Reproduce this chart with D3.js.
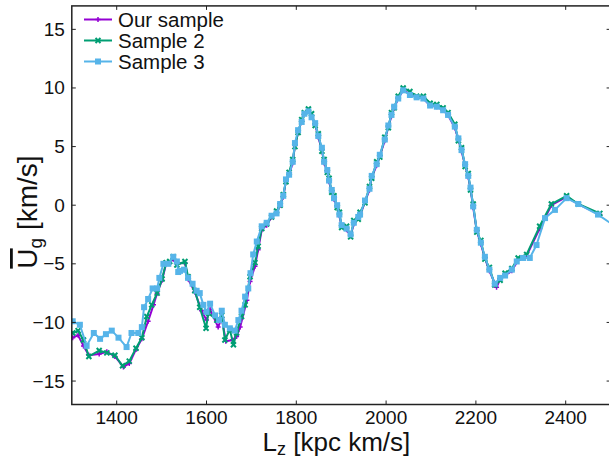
<!DOCTYPE html>
<html>
<head>
<script src="https://d3js.org/d3.v7.min.js"></script>
<style>
  body { margin: 0; background: #fff; }
  svg { font-family: 'Liberation Sans', Arial, sans-serif; }
</style>
</head>
<body>
<div id="chart"></div>
<script>
// ---- data ----
var xTicks = [1400, 1600, 1800, 2000, 2200, 2400];
var yTicks = [-15, -10, -5, 0, 5, 10, 15];
var seriesNames = ["Our sample", "Sample 2", "Sample 3"];

var ourSample = [
  [1302,-11.3],[1314,-11.1],[1326,-12.0],[1338,-12.8],[1361,-12.7],[1378,-12.5],[1396,-12.9],[1415,-13.8],
  [1428,-13.5],[1443,-12.3],[1456,-11.4],[1470,-9.9],[1482,-8.5],[1490,-7.5],[1501,-6.4],[1510,-5.0],
  [1526,-4.6],[1534,-5.0],[1552,-4.9],[1559,-6.3],[1574,-7.4],[1589,-9.0],[1600,-9.8],[1608,-8.9],
  [1626,-10.4],[1634,-9.6],[1643,-11.6],[1658,-11.5],[1667,-11.2],[1675,-10.4],[1690,-8.1],[1697,-6.5],
  [1708,-5.2],[1715,-3.8],[1723,-2.1],[1734,-1.7],[1745,-1.0],[1756,-0.6],[1764,0.0],[1771,0.7],
  [1777,2.1],[1784,2.6],[1792,3.6],[1797,5.1],[1804,6.2],[1812,7.2],[1818,7.8],[1827,8.1],
  [1834,7.6],[1842,6.9],[1849,5.8],[1857,4.7],[1862,3.6],[1869,2.9],[1873,2.0],[1879,1.2],
  [1884,0.5],[1891,-0.1],[1896,-0.9],[1901,-1.8],[1912,-2.1],[1921,-2.6],[1928,-1.6],[1938,-1.1],
  [1942,-0.9],[1953,0.3],[1963,1.3],[1968,2.4],[1979,3.4],[1986,4.2],[1997,5.5],[2005,6.7],
  [2012,7.6],[2018,8.3],[2027,9.1],[2038,9.8],[2053,9.5],[2068,9.2],[2083,9.1],[2098,8.5],
  [2113,8.4],[2127,8.1],[2138,7.7],[2153,6.6],[2161,5.6],[2168,4.6],[2176,3.4],[2183,2.4],
  [2188,1.4],[2194,-0.2],[2202,-2.2],[2211,-3.3],[2220,-4.5],[2230,-5.6],[2246,-7.0],[2254,-6.3],
  [2265,-6.0],[2280,-5.6],[2294,-4.7],[2313,-4.3],[2342,-2.0],[2368,0.0],[2402,0.7],[2428,0.1],
  [2476,-0.8]
];

var sample2 = [
  [1302,-10.9],[1314,-10.7],[1326,-11.5],[1338,-12.9],[1361,-12.4],[1378,-12.6],[1396,-12.8],[1413,-13.7],
  [1428,-13.3],[1443,-12.2],[1456,-11.3],[1467,-9.5],[1478,-8.5],[1490,-7.5],[1501,-6.3],[1510,-4.9],
  [1518,-4.8],[1526,-4.4],[1534,-5.1],[1552,-4.8],[1559,-6.1],[1574,-7.3],[1585,-8.7],[1599,-10.5],
  [1604,-9.2],[1623,-9.8],[1634,-9.4],[1641,-11.5],[1652,-10.6],[1660,-11.9],[1667,-10.9],[1678,-9.5],
  [1686,-8.5],[1697,-6.1],[1708,-4.9],[1715,-3.5],[1723,-2.0],[1734,-1.6],[1745,-1.0],[1756,-0.5],
  [1764,0.0],[1771,0.9],[1777,2.0],[1784,2.8],[1792,3.9],[1797,5.0],[1804,6.2],[1812,7.3],
  [1818,7.9],[1827,8.2],[1834,7.8],[1842,6.8],[1849,6.1],[1857,4.6],[1862,3.9],[1869,2.8],
  [1873,2.3],[1879,1.1],[1884,0.8],[1891,-0.2],[1896,-0.6],[1901,-1.9],[1912,-1.8],[1921,-2.7],
  [1928,-1.3],[1938,-1.2],[1942,-0.6],[1953,0.2],[1963,1.6],[1968,2.3],[1979,3.7],[1986,4.1],
  [1997,5.8],[2005,6.6],[2012,7.9],[2018,8.3],[2027,9.3],[2038,10.0],[2053,9.7],[2068,9.3],
  [2083,9.3],[2098,8.7],[2113,8.6],[2127,8.3],[2138,7.9],[2153,6.9],[2161,5.5],[2168,4.9],
  [2176,3.3],[2183,2.7],[2188,1.3],[2194,0.1],[2202,-2.3],[2211,-3.0],[2220,-4.6],[2230,-5.3],
  [2242,-6.8],[2254,-6.4],[2265,-5.8],[2280,-5.4],[2294,-4.5],[2313,-4.2],[2342,-1.8],[2368,0.1],
  [2402,0.8],[2428,0.1],[2476,-0.7]
];

var sample3 = [
  [1302,-9.9],[1318,-10.2],[1333,-12.0],[1349,-10.9],[1363,-11.4],[1376,-11.0],[1389,-10.7],[1404,-11.3],
  [1422,-12.1],[1433,-10.9],[1448,-10.9],[1456,-10.4],[1461,-8.7],[1470,-8.0],[1480,-7.1],[1490,-7.1],
  [1495,-6.2],[1504,-5.0],[1515,-5.0],[1526,-4.4],[1534,-4.8],[1537,-5.7],[1541,-5.6],[1550,-5.5],
  [1559,-6.2],[1569,-6.7],[1578,-7.3],[1585,-7.5],[1593,-8.5],[1600,-9.1],[1608,-8.4],[1619,-9.4],
  [1628,-9.8],[1634,-9.0],[1641,-10.2],[1652,-10.5],[1663,-10.7],[1671,-9.8],[1678,-9.0],[1686,-7.8],
  [1693,-7.1],[1698,-5.8],[1704,-4.2],[1712,-3.1],[1723,-1.8],[1734,-1.5],[1745,-0.9],[1756,-0.7],
  [1764,0.1],[1771,0.8],[1777,2.2],[1784,2.6],[1792,3.7],[1797,5.3],[1804,6.4],[1812,7.1],
  [1818,7.8],[1827,8.0],[1834,7.5],[1842,7.0],[1849,5.9],[1857,4.9],[1862,3.7],[1869,3.0],
  [1873,2.1],[1879,1.3],[1884,0.6],[1891,0.0],[1896,-0.8],[1901,-1.7],[1912,-2.0],[1921,-2.5],
  [1928,-1.5],[1938,-1.0],[1942,-0.8],[1953,0.4],[1963,1.4],[1968,2.5],[1979,3.5],[1986,4.3],
  [1997,5.6],[2005,6.8],[2012,7.7],[2018,8.4],[2027,9.1],[2038,9.8],[2053,9.4],[2068,9.2],
  [2083,9.1],[2098,8.5],[2113,8.4],[2127,8.1],[2138,7.7],[2153,6.7],[2161,5.7],[2168,4.7],
  [2176,3.5],[2183,2.5],[2188,1.5],[2194,-0.1],[2202,-2.1],[2211,-3.2],[2220,-4.4],[2230,-5.5],
  [2242,-6.7],[2254,-6.2],[2265,-6.0],[2280,-5.5],[2291,-4.8],[2305,-4.5],[2320,-4.5],[2335,-3.4],
  [2354,-1.1],[2376,-0.4],[2402,0.6],[2428,0.1],[2472,-0.8],[2510,-1.8]
];

var colors = ["#9400d3", "#009e73", "#56b4e9"];

////////////////////////////////////////////////////////////
//////////////////////// Set-Up ////////////////////////////
////////////////////////////////////////////////////////////
var width = 609, height = 460;
var plotLeft = 71.8, plotRight = 610.6, plotTop = 5.9, plotBottom = 404.5;

var x = d3.scaleLinear().domain([1300, 2500]).range([plotLeft, plotRight]);
var y = d3.scaleLinear().domain([-17, 17]).range([plotBottom, plotTop]);

var svg = d3.select("#chart").append("svg")
    .attr("width", width)
    .attr("height", height);

svg.append("defs").append("clipPath").attr("id", "plotClip")
  .append("rect")
    .attr("x", plotLeft).attr("y", plotTop)
    .attr("width", plotRight - plotLeft).attr("height", plotBottom - plotTop);

var line = d3.line()
    .x(function(d) { return x(d[0]); })
    .y(function(d) { return y(d[1]); });

// marker shapes: plus, x, square
function drawMarker(g, kind, cx, cy, color) {
  if (kind === 0) {
    g.append("path").attr("d", "M" + (cx-2.5) + "," + cy + "h5M" + cx + "," + (cy-2.5) + "v5")
      .attr("stroke", color).attr("stroke-width", 1.5).attr("fill", "none");
  } else if (kind === 1) {
    g.append("path").attr("d", "M" + (cx-2.5) + "," + (cy-2.5) + "l5,5M" + (cx-2.5) + "," + (cy+2.5) + "l5,-5")
      .attr("stroke", color).attr("stroke-width", 2).attr("fill", "none");
  } else {
    g.append("rect").attr("x", cx-3).attr("y", cy-3).attr("width", 6).attr("height", 6)
      .attr("fill", color);
  }
}

var allSeries = [ourSample, sample2, sample3];
var plot = svg.append("g").attr("clip-path", "url(#plotClip)");

allSeries.forEach(function(data, i) {
  var g = plot.append("g").attr("class", "series-" + i);
  g.append("path")
    .datum(data)
    .attr("fill", "none")
    .attr("stroke", colors[i])
    .attr("stroke-width", 2)
    .attr("stroke-linejoin", "round")
    .attr("d", line);
  data.forEach(function(d) { drawMarker(g, i, x(d[0]), y(d[1]), colors[i]); });
});

////////////////////////////////////////////////////////////
////////////////////// Axes / frame ////////////////////////
////////////////////////////////////////////////////////////
var tickLen = 4;
var frame = svg.append("g");

xTicks.forEach(function(t) {
  frame.append("line").attr("x1", x(t)).attr("x2", x(t)).attr("y1", plotBottom).attr("y2", plotBottom - tickLen)
    .attr("stroke", "#222").attr("stroke-width", 1);
  frame.append("line").attr("x1", x(t)).attr("x2", x(t)).attr("y1", plotTop).attr("y2", plotTop + tickLen)
    .attr("stroke", "#222").attr("stroke-width", 1);
  frame.append("text").attr("x", x(t)).attr("y", 424)
    .attr("text-anchor", "middle").attr("font-size", 19).attr("fill", "#111")
    .text(t);
});

yTicks.forEach(function(t) {
  frame.append("line").attr("x1", plotLeft).attr("x2", plotLeft + tickLen).attr("y1", y(t)).attr("y2", y(t))
    .attr("stroke", "#222").attr("stroke-width", 1);
  frame.append("line").attr("x1", plotRight).attr("x2", plotRight - tickLen).attr("y1", y(t)).attr("y2", y(t))
    .attr("stroke", "#222").attr("stroke-width", 1);
  frame.append("text").attr("x", plotLeft - 7).attr("y", y(t) + 6.5)
    .attr("text-anchor", "end").attr("font-size", 19).attr("fill", "#111")
    .text(t < 0 ? "\u2212" + Math.abs(t) : t);
});

frame.append("rect")
  .attr("x", plotLeft).attr("y", plotTop)
  .attr("width", plotRight - plotLeft).attr("height", plotBottom - plotTop)
  .attr("fill", "none").attr("stroke", "#222").attr("stroke-width", 1.5);

// x label: L_z [kpc km/s]
var xl = svg.append("text").attr("x", (plotLeft + 609) / 2 - 4).attr("y", 451)
  .attr("text-anchor", "middle").attr("font-size", 26).attr("fill", "#111");
xl.append("tspan").text("L");
xl.append("tspan").attr("font-size", 18).attr("dy", 4).text("z");
xl.append("tspan").attr("dy", -4).text(" [kpc km/s]");

// y label: U-bar_g [km/s]
var yl = svg.append("text")
  .attr("transform", "translate(37," + 212 + ") rotate(-90)")
  .attr("text-anchor", "middle").attr("font-size", 28).attr("fill", "#111");
yl.append("tspan").style("text-decoration", "overline").text("U");
yl.append("tspan").attr("font-size", 19).attr("dy", 5).text("g");
yl.append("tspan").attr("dy", -5).text(" [km/s]");

////////////////////////////////////////////////////////////
////////////////////////// Legend //////////////////////////
////////////////////////////////////////////////////////////
var legend = svg.append("g");
seriesNames.forEach(function(name, i) {
  var ly = 19.5 + i * 21;
  legend.append("line").attr("x1", 84).attr("x2", 112).attr("y1", ly).attr("y2", ly)
    .attr("stroke", colors[i]).attr("stroke-width", 2);
  drawMarker(legend, i, 98, ly, colors[i]);
  legend.append("text").attr("x", 118).attr("y", ly + 7)
    .attr("font-size", 20.5).attr("fill", "#111").text(name);
});
</script>
</body>
</html>
